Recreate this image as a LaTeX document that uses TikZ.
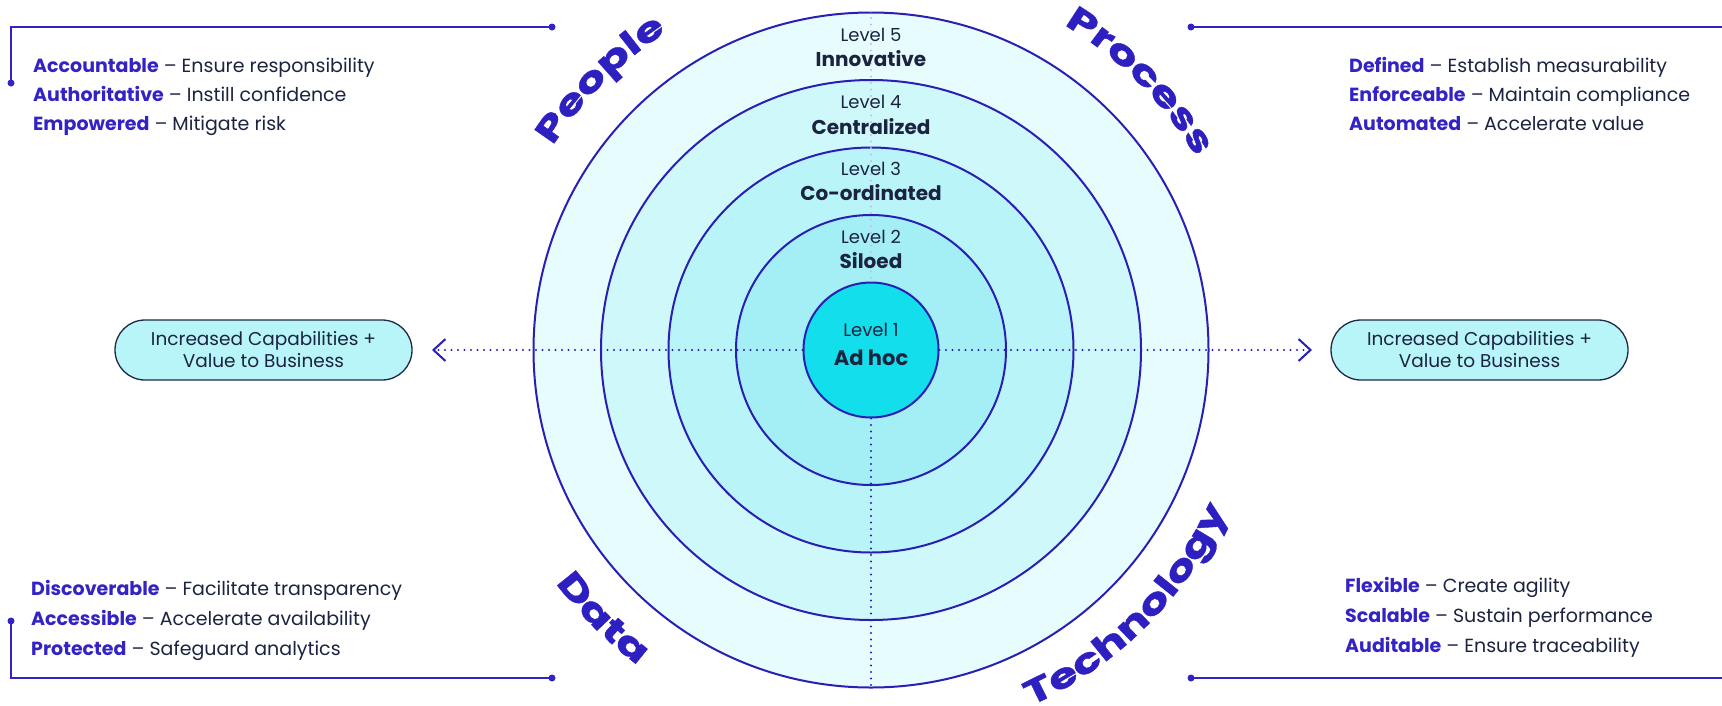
\documentclass[tikz,border=0pt]{standalone}
\usepackage{fontspec}
\setmainfont{Poppins}
\newfontfamily\headfont[FakeStretch=1.38, BoldFeatures={FakeBold=1.2}]{Poppins}
\usetikzlibrary{arrows.meta,decorations.text}
\definecolor{ink}{HTML}{1B2340}
\definecolor{indi}{HTML}{3322C4}
\definecolor{ring}{HTML}{2A1FB5}
\definecolor{headc}{HTML}{2E1FC0}
\definecolor{lvA}{HTML}{12DEEC}
\definecolor{lvB}{HTML}{A3EFF5}
\definecolor{lvC}{HTML}{B8F4F8}
\definecolor{lvD}{HTML}{CEF8FA}
\definecolor{lvE}{HTML}{E6FCFD}
\definecolor{pillc}{HTML}{B7F5F8}
\definecolor{pillb}{HTML}{1E2A44}
\definecolor{lav}{HTML}{C8B8F0}
\begin{document}
\begin{tikzpicture}[x=1pt,y=1pt,
  ringc/.style={circle, draw=ring, line width=2pt, inner sep=0pt},
  lvl/.style={anchor=base, font=\fontsize{18}{20}\selectfont, text=ink, inner sep=0pt},
  lvlb/.style={anchor=base, font=\fontsize{20}{22}\selectfont\bfseries, text=ink, inner sep=0pt},
  item/.style={anchor=base west, font=\fontsize{19}{22}\selectfont, text=ink, inner sep=0pt},
  pill/.style={draw=pillb, fill=pillc, line width=1.3pt, rounded corners=30pt, minimum width=297pt, minimum height=60pt, align=center, font=\fontsize{18.5}{22}\selectfont, text=ink},
  dotline/.style={line width=2.4pt, dash pattern=on 0pt off 6.5pt, line cap=round},
  brk/.style={draw=indi, line width=1.5pt},
  dotn/.style={circle, fill=indi, inner sep=0pt, minimum size=7pt},
  headtxt/.style={decorate, decoration={text along path, text align=center, text={|\headfont\bfseries\fontsize{34}{34}\selectfont\color{headc}|#1}}}
]
\useasboundingbox[fill=white] (0,0) rectangle (1722,-705);
\coordinate (C) at (871,-350);
% rings
\node[ringc, fill=lvE, minimum size=675pt] (c5) at (C) {};
\node[ringc, fill=lvD, minimum size=540pt] (c4) at (C) {};
\node[ringc, fill=lvC, minimum size=405pt] (c3) at (C) {};
\node[ringc, fill=lvB, minimum size=270pt] (c2) at (C) {};
\node[ringc, fill=lvA, minimum size=135pt] (c1) at (C) {};
% dotted axes
\coordinate (aL) at (432,-350);
\coordinate (aR) at (1312,-350);
\draw[dotline, draw=lav] (c5.north) -- (c1.north);
\draw[dotline, draw=ring] (c1.south) -- (c5.south);
\draw[dotline, draw=ring, -{Straight Barb[length=12pt,width=22pt,line width=2pt]}] (c1.west) -- (aL);
\draw[dotline, draw=ring, -{Straight Barb[length=12pt,width=22pt,line width=2pt]}] (c1.east) -- (aR);
% level labels
\node[lvl] (l5) at (871,-41) {Level 5};
\node[lvlb] (n5) at (871,-66) {Innovative};
\node[lvl] (l4) at (871,-108) {Level 4};
\node[lvlb] (n4) at (871,-134) {Centralized};
\node[lvl] (l3) at (871,-175) {Level 3};
\node[lvlb] (n3) at (871,-200) {Co-ordinated};
\node[lvl] (l2) at (871,-243) {Level 2};
\node[lvlb] (n2) at (871,-268) {Siloed};
\node[lvl] (l1) at (871,-336) {Level 1};
\node[lvlb, font=\fontsize{21}{24}\selectfont\bfseries] (n1) at (871,-365) {Ad hoc};
% pills
\node[pill] (pillL) at (263.5,-350) {Increased Capabilities +\\Value to Business};
\node[pill] (pillR) at (1479.5,-350) {Increased Capabilities +\\Value to Business};
% headings along arcs
\path[headtxt=People] (C) ++(180:378) arc[start angle=180, end angle=90, radius=378];
\path[headtxt=Process] (C) ++(90:378) arc[start angle=90, end angle=0, radius=378];
\path[headtxt=Data] (C) ++(180:392) arc[start angle=180, end angle=270, radius=392];
\path[headtxt=Technology] (C) ++(270:390) arc[start angle=270, end angle=360, radius=390];
% brackets
\node[dotn] (dTL1) at (552,-27) {};
\node[dotn] (dTL2) at (11,-83) {};
\coordinate (kTL) at (11,-27);
\draw[brk] (dTL1.center) -- (kTL) -- (dTL2.center);
\node[dotn] (dTR) at (1191,-27) {};
\coordinate (eTR) at (1722,-27);
\draw[brk] (dTR.center) -- (eTR);
\node[dotn] (dBL1) at (11,-621) {};
\node[dotn] (dBL2) at (552,-678) {};
\coordinate (kBL) at (11,-678);
\draw[brk] (dBL1.center) -- (kBL) -- (dBL2.center);
\node[dotn] (dBR) at (1191,-678) {};
\coordinate (eBR) at (1722,-678);
\draw[brk] (dBR.center) -- (eBR);
% text lists
\node[item] (p1) at (33,-72) {\textcolor{indi}{\bfseries Accountable} – Ensure responsibility};
\node[item] (p2) at (33,-101) {\textcolor{indi}{\bfseries Authoritative} – Instill confidence};
\node[item] (p3) at (33,-130) {\textcolor{indi}{\bfseries Empowered} – Mitigate risk};
\node[item] (q1) at (1349,-72) {\textcolor{indi}{\bfseries Defined} – Establish measurability};
\node[item] (q2) at (1349,-101) {\textcolor{indi}{\bfseries Enforceable} – Maintain compliance};
\node[item] (q3) at (1349,-130) {\textcolor{indi}{\bfseries Automated} – Accelerate value};
\node[item] (r1) at (31,-595) {\textcolor{indi}{\bfseries Discoverable} – Facilitate transparency};
\node[item] (r2) at (31,-625) {\textcolor{indi}{\bfseries Accessible} – Accelerate availability};
\node[item] (r3) at (31,-655) {\textcolor{indi}{\bfseries Protected} – Safeguard analytics};
\node[item] (s1) at (1345,-592) {\textcolor{indi}{\bfseries Flexible} – Create agility};
\node[item] (s2) at (1345,-622) {\textcolor{indi}{\bfseries Scalable} – Sustain performance};
\node[item] (s3) at (1345,-652) {\textcolor{indi}{\bfseries Auditable} – Ensure traceability};
\end{tikzpicture}
\end{document}
